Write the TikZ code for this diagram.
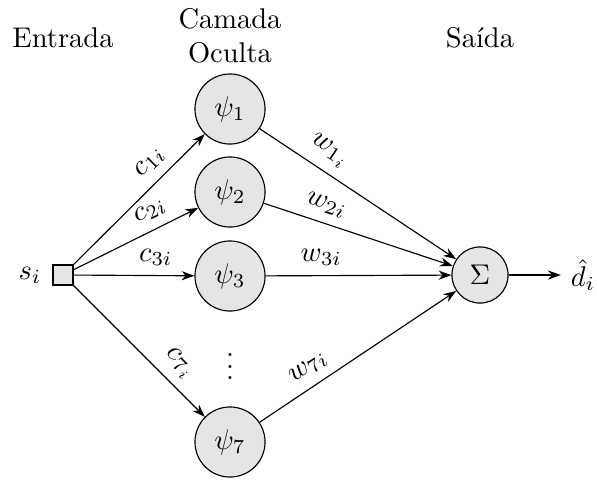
\documentclass[tikz,border=0pt]{standalone}
\usetikzlibrary{arrows.meta}
\begin{document}
\begin{tikzpicture}[x=0.351pt,y=-0.351pt,
  neuron/.style={circle,draw,fill=gray!20,minimum size=24.6pt,inner sep=0pt},
  sumnode/.style={circle,draw,fill=gray!20,minimum size=19.7pt,inner sep=0pt},
  inbox/.style={rectangle,draw,fill=gray!20,minimum size=7pt,inner sep=0pt},
  conn/.style={-{Stealth[length=4.5pt,width=3.2pt]}},
  lab/.style={sloped,above,inner sep=3.3pt}]
\useasboundingbox (0,0) rectangle (597,480);
\node (hin) at (63,38) {Entrada};
\node[align=center] (hhid) at (230,36) {Camada\\Oculta};
\node (hout) at (480,38) {Saída};
\node[inbox] (x) at (63,275) {};
\node (s) at (30,275) {$s_i$};
\node[neuron] (p1) at (230,109) {$\psi_1$};
\node[neuron] (p2) at (230,192) {$\psi_2$};
\node[neuron] (p3) at (230,276) {$\psi_3$};
\node[inner sep=0pt] (dots) at (230,358) {$\vdots$};
\node[neuron] (p7) at (230,442) {$\psi_7$};
\node[sumnode] (sig) at (480,275) {$\Sigma$};
\node (d) at (583,275) {$\hat{d}_i$};
\draw[conn] (x) -- node[lab,pos=0.68] {$c_{1i}$} (p1);
\draw[conn] (x) -- node[lab,pos=0.68] {$c_{2i}$} (p2);
\draw[conn] (x) -- node[lab,pos=0.68] {$c_{3i}$} (p3);
\draw[conn] (x) -- node[lab,pos=0.7] {$c_{7_i}$} (p7);
\draw[conn] (p1) -- node[lab,pos=0.3] {$w_{1_i}$} (sig);
\draw[conn] (p2) -- node[lab,pos=0.3] {$w_{2i}$} (sig);
\draw[conn] (p3) -- node[lab,pos=0.3] {$w_{3i}$} (sig);
\draw[conn] (p7) -- node[lab,pos=0.3] {$w_{7i}$} (sig);
\draw[conn] (sig) -- (d);
\end{tikzpicture}
\end{document}
